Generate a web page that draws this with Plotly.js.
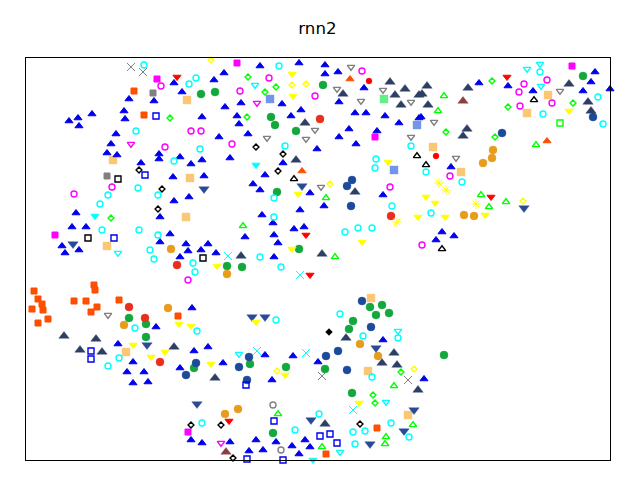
<!DOCTYPE html>
<html><head><meta charset="utf-8">
<script src="https://cdn.plot.ly/plotly-3.0.1.min.js"></script>
<style>html,body{margin:0;padding:0;background:#fff}</style></head>
<body><div id="chart" style="width:640px;height:480px"></div>
<script>
const blueTriX=[69,78,79,92,129,154,124,125,174,182,214,202,219,116,111,107,117,141,159,159,180,191,202,173,204,260,224,299,325,325,338,364,339,241,225,282,301,291,237,239,248,230,355,366,385,399,349,339,356,377,317,283,265,253,260,419,479,508,533,595,591,583,610,451,421,174,189,76,160,72,86,170,160,62,79,65,186,188,208,201,216,180,310,324,383,300,262,273,294,304,274,245,278,274,442,454,436,192,156,118,133,127,144,133,148,180,194,208,383,265,293,223,318,272,424,191,202,230,256,249,263,276,292,305,310,299,25];
const blueTriY=[121,118,126,114,99,101,111,119,83,92,80,117,137,134,144,153,155,163,154,159,157,164,160,177,176,66,73,63,65,74,72,88,102,103,107,104,110,116,116,124,134,158,113,113,116,123,129,137,144,131,149,163,175,184,190,118,83,86,91,72,82,91,89,167,117,201,197,213,217,227,227,234,242,246,250,253,244,251,244,250,253,257,193,206,195,210,215,223,229,227,235,237,243,257,232,236,240,308,327,344,362,372,372,383,382,368,351,347,340,355,356,363,362,380,379,440,443,442,440,451,450,442,446,440,447,454,383];
const navyTriX=[390,405,395,401,343,305,296,419,427,422,428,468,467,463,569,588,591,355,241,322,64,96,80,102,174,215,346,394,382,397,418,325];
const navyTriY=[82,89,95,105,94,123,160,95,86,94,105,88,129,136,84,102,111,192,256,254,336,339,350,352,347,378,338,353,363,365,390,424];
const navyDownX=[302,204,73,524,147,252,265,376,197,311,370,414,404];
const navyDownY=[186,189,244,208,345,317,317,348,404,420,444,410,431];
const blueCircleX=[352,347,502,593,351,196,186,362,371,249,239,247,326,338,347];
const blueCircleY=[180,186,133,117,206,363,375,301,327,357,367,380,356,351,370];
const greenCircleX=[25,323,271,275,296,583,201,215,277,299,227,242,129,146,146,194,370,382,376,389,353,349,250,286,325,444,352,273];
const greenCircleY=[383,85,117,125,131,76,94,92,192,249,266,267,318,324,337,368,307,305,315,313,321,329,364,367,369,355,393,433];
const orangeCircleX=[493,492,483,171,227,464,474,168,124,360,378,238,225];
const orangeCircleY=[150,158,163,249,274,215,216,308,325,344,356,409,414];
const redCircleX=[320,177,391,129,145,160];
const redCircleY=[119,265,216,307,318,362];
const pureRedCircleX=[369,436];
const pureRedCircleY=[81,156];
const paleOrangeSquareX=[187,113,190,186,107,433,548,527,461,126,371,368,408];
const paleOrangeSquareY=[100,160,178,217,246,147,95,113,172,352,298,371,415];
const cornflowerSquareX=[270,394,417];
const cornflowerSquareY=[99,170,125];
const mintSquareX=[384];
const mintSquareY=[99];
const orangeSquareX=[134,144,34,38,42,32,43,48,38,74,86,97,91,94,95,119,178,377,326];
const orangeSquareY=[91,115,291,299,304,309,310,319,323,301,301,307,312,285,290,300,316,428,454];
const magentaSquareX=[157,237,375,572,55,188];
const magentaSquareY=[79,63,137,66,235,432];
const graySquareX=[153,107];
const graySquareY=[93,176];
const cyanCircleX=[138,144,189,196,136,200,174,138,279,285,376,375,411,540,543,598,603,426,462,108,100,158,102,139,158,150,154,193,195,274,274,392,345,358,372,260,281,431,135,197,119,108,276,340,363,398,372,202,319,295,353,365,355,391,409];
const cyanCircleY=[57,65,84,78,131,149,161,188,66,146,159,168,146,72,114,97,124,172,182,195,204,195,230,230,235,250,259,263,272,198,217,206,232,228,228,257,267,213,328,331,358,366,320,314,336,338,377,423,414,430,432,431,444,423,437];
const magentaCircleX=[161,191,201,165,112,269,362,240,315,232,390,524,519,520,547,552,450,74,188,422];
const magentaCircleY=[86,131,131,147,187,78,71,91,96,144,187,84,92,106,80,103,176,194,280,245];
const grayCircleX=[273,281];
const grayCircleY=[405,450];
const greenDiamondX=[170,248,276,265,247,492,446,495,508,573,111,401,373,375];
const greenDiamondY=[118,77,87,92,117,81,132,137,107,103,218,372,395,403];
const yellowDiamondX=[211,292,306,330,523,277,414];
const yellowDiamondY=[60,85,84,184,201,371,369];
const blackDiamondX=[139,162,256,283,278,158,191,221,360,233];
const blackDiamondY=[170,189,147,154,171,209,425,425,424,458];
const solidDiamondX=[329];
const solidDiamondY=[332];
const blueSquareX=[156,145,114,91,91,246,274,320,330,337,247,283];
const blueSquareY=[116,175,238,351,359,385,421,436,434,443,459,460];
const blackSquareX=[118,88,203];
const blackSquareY=[179,238,258];
const greenSquareX=[560];
const greenSquareY=[123];
const grayDownX=[351,337,383,361,411,315,306,267,411,321,434,560,456,108];
const grayDownY=[67,89,90,101,102,130,139,138,137,187,122,91,158,315];
const cyanDownX=[255,527,540,541,118,398,239,340,386];
const cyanDownY=[85,69,64,86,253,331,354,452,402];
const magentaDownX=[131,257,221];
const magentaDownY=[144,103,443];
const greenUpX=[444,438,536,326,243,335,481,489,506,394,278,322,386,385,413];
const greenUpY=[96,111,145,198,226,257,195,207,202,386,414,447,437,444,425];
const blackUpX=[294,417,534,426,442];
const blackUpY=[179,156,100,165,249];
const yellowDownX=[292,293,388,569,298,362,292,418,426,435,445,485,217,179,191,133,151,165,211,256,285,359];
const yellowDownY=[74,96,162,111,194,242,249,217,197,203,217,215,266,324,326,345,357,352,364,322,375,403];
const redDownX=[177,507,306,310,491,229];
const redDownY=[77,77,235,275,197,421];
const cyanSolidDownX=[256,95,313];
const cyanSolidDownY=[165,216,460];
const orangeUpX=[350,302,547];
const orangeUpY=[79,171,141];
const brownUpX=[463,226];
const brownUpY=[101,452];
const grayCrossX=[131,143,322,408];
const grayCrossY=[67,72,376,380];
const cyanCrossX=[228,300,257,306,353];
const cyanCrossY=[256,275,351,353,410];
const yellowStarX=[397,439,446,476];
const yellowStarY=[222,183,190,204];

const frameXRange=[26,610];
const frameYRange=[460,58];

function solid(x,y,sym,col,halo,size){return {x,y,type:'scatter',mode:'markers',cliponaxis:false,hoverinfo:'skip',
  marker:{symbol:sym,size,color:col,line:{color:halo,width:1}}};}
function open(x,y,sym,col,size){return {x,y,type:'scatter',mode:'markers',cliponaxis:false,hoverinfo:'skip',
  marker:{symbol:sym,size,color:'rgba(255,255,255,0)',line:{color:col,width:1.4}}};}
function line(x,y,sym,col,size){return {x,y,type:'scatter',mode:'markers',cliponaxis:false,hoverinfo:'skip',
  marker:{symbol:sym,size,color:col,line:{color:col,width:1}}};}

const traces=[
 solid(greenCircleX,greenCircleY,'circle','#12a83c','rgba(18,168,60,.4)',8),
 solid(orangeCircleX,orangeCircleY,'circle','#e89c1c','rgba(232,156,28,.4)',8),
 solid(redCircleX,redCircleY,'circle','#ea2e1c','rgba(234,46,28,.4)',8),
 solid(pureRedCircleX,pureRedCircleY,'circle','#ff0000','rgba(255,0,0,.3)',6),
 solid(blueCircleX,blueCircleY,'circle','#1d4b9c','rgba(29,75,156,.4)',8),
 solid(paleOrangeSquareX,paleOrangeSquareY,'square','#fbc776','rgba(251,199,118,.4)',8),
 solid(cornflowerSquareX,cornflowerSquareY,'square','#7295e8','rgba(114,149,232,.4)',8),
 solid(mintSquareX,mintSquareY,'square','#66ee88','rgba(102,238,136,.4)',8),
 solid(orangeSquareX,orangeSquareY,'square','#ff4f00','#ff4f00',6),
 solid(magentaSquareX,magentaSquareY,'square','#ff00ff','#ff00ff',6),
 solid(graySquareX,graySquareY,'square','#808080','#808080',6),
 solid(navyTriX,navyTriY,'triangle-up','#2d3f63','rgba(45,63,99,.4)',9),
 solid(navyDownX,navyDownY,'triangle-down','#2a4a96','rgba(42,74,150,.4)',9),
 solid(brownUpX,brownUpY,'triangle-up','#8b4040','rgba(139,64,64,.4)',9),
 solid(blueTriX,blueTriY,'triangle-up','#0000ee','#0000ee',7),
 solid(yellowDownX,yellowDownY,'triangle-down','#ffff00','#ffff00',7),
 solid(redDownX,redDownY,'triangle-down','#ff0000','#ff0000',7),
 solid(cyanSolidDownX,cyanSolidDownY,'triangle-down','#00ffff','#00ffff',7),
 solid(orangeUpX,orangeUpY,'triangle-up','#ff4f00','#ff4f00',7),
 solid(solidDiamondX,solidDiamondY,'diamond','#000000','#000000',5),
 open(cyanCircleX,cyanCircleY,'circle','#00ffff',6),
 open(magentaCircleX,magentaCircleY,'circle','#ff00ff',6),
 open(grayCircleX,grayCircleY,'circle','#808080',6),
 open(greenDiamondX,greenDiamondY,'diamond','#00ff00',4.5),
 open(yellowDiamondX,yellowDiamondY,'diamond','#ffff00',4.5),
 open(blackDiamondX,blackDiamondY,'diamond','#000000',4.5),
 open(blueSquareX,blueSquareY,'square','#0000ee',6),
 open(blackSquareX,blackSquareY,'square','#000000',6),
 open(greenSquareX,greenSquareY,'square','#00ff00',6),
 open(grayDownX,grayDownY,'triangle-down','#808080',6.5),
 open(cyanDownX,cyanDownY,'triangle-down','#00ffff',6.5),
 open(magentaDownX,magentaDownY,'triangle-down','#ff00ff',6.5),
 open(greenUpX,greenUpY,'triangle-up','#00ff00',6.5),
 open(blackUpX,blackUpY,'triangle-up','#000000',6.5),
 line(grayCrossX,grayCrossY,'x-thin','#808080',8),
 line(cyanCrossX,cyanCrossY,'x-thin','#00ffff',8),
 line(yellowStarX,yellowStarY,'asterisk','#ffff00',8)
];
const ax={showgrid:false,zeroline:false,showticklabels:false,ticks:'',showline:true,mirror:true,linecolor:'#000',linewidth:1};
Plotly.newPlot('chart',traces,{
 width:640,height:480,showlegend:false,paper_bgcolor:'#fff',plot_bgcolor:'#fff',
 title:{text:'rnn2',x:0.496,xanchor:'center',y:0.941,yanchor:'middle',font:{family:'DejaVu Sans',size:16.67,color:'#000'}},
 margin:{l:26,r:30,t:58,b:20,pad:0},
 xaxis:Object.assign({range:frameXRange},ax),
 yaxis:Object.assign({range:frameYRange},ax)
},{displayModeBar:false,staticPlot:true});
</script></body></html>
